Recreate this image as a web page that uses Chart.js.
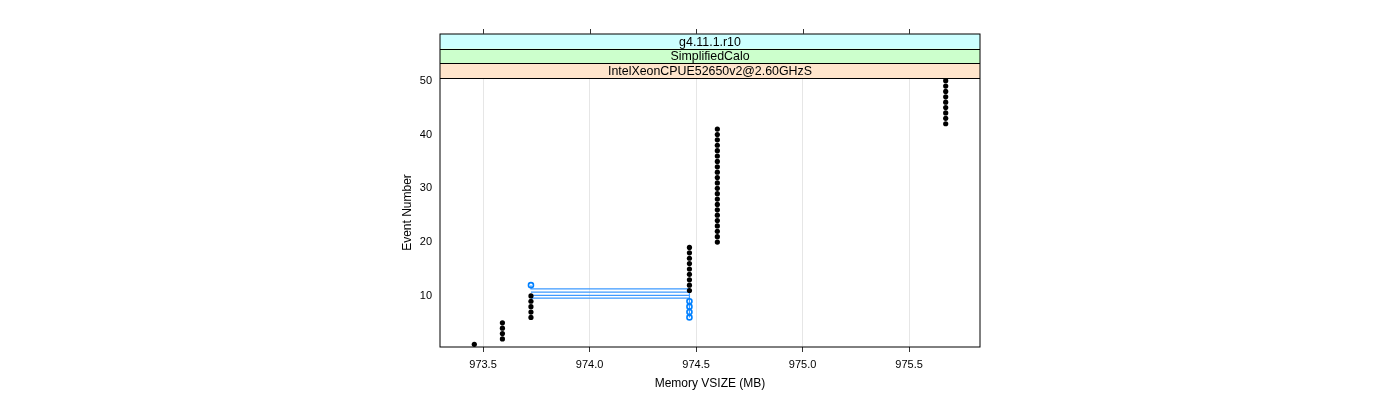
<!DOCTYPE html>
<html><head><meta charset="utf-8">
<script src="https://cdn.jsdelivr.net/npm/chart.js@4/dist/chart.umd.min.js"></script>
<style>html,body{margin:0;padding:0;background:#fff}canvas{display:block}</style>
</head><body>
<canvas id="c" width="1400" height="400"></canvas>
<script>
// ---- data ----
const stripLabels = ["g4.11.1.r10", "SimplifiedCalo", "IntelXeonCPUE52650v2@2.60GHzS"];
const stripColors = ["#ccffff", "#ccffcc", "#ffe5cc"];
const xTickValues = [973.5, 974.0, 974.5, 975.0, 975.5];
const yTickValues = [10, 20, 30, 40, 50];
const xRange = [973.298, 975.833];
const yRange = [0.5, 50.5];
const xTitle = "Memory VSIZE (MB)";
const yTitle = "Event Number";

const blackEvents = [1, 2, 3, 4, 5, 6, 7, 8, 9, 10,
  11, 12, 13, 14, 15, 16, 17, 18, 19, 20,
  21, 22, 23, 24, 25, 26, 27, 28, 29, 30,
  31, 32, 33, 34, 35, 36, 37, 38, 39, 40,
  41, 42, 43, 44, 45, 46, 47, 48, 49, 50];
const blackMemory = [973.459, 973.591, 973.591, 973.591, 973.591, 973.725, 973.725, 973.725, 973.725, 973.725,
  974.469, 974.469, 974.469, 974.469, 974.469, 974.469, 974.469, 974.469, 974.469, 974.600,
  974.600, 974.600, 974.600, 974.600, 974.600, 974.600, 974.600, 974.600, 974.600, 974.600,
  974.600, 974.600, 974.600, 974.600, 974.600, 974.600, 974.600, 974.600, 974.600, 974.600,
  974.600, 975.672, 975.672, 975.672, 975.672, 975.672, 975.672, 975.672, 975.672, 975.672];

const blueEvents = [6, 7, 8, 9, 12];
const blueMemory = [974.469, 974.469, 974.469, 974.469, 973.725];

const blueLineEvents = [12, 11.3, 11.3, 6, null, 10.7, 10.7, null, 10.1, 10.1, null, 9.6, 9.6];
const blueLineMemory = [973.725, 973.725, 974.469, 974.469, null, 973.725, 974.469, null, 973.725, 974.469, null, 973.725, 974.469];

// ---- helpers ----
const pts = (xs, ys) => xs.map((x, i) => ({x: x, y: ys[i]}));
const FONT = "'Liberation Sans', Arial, Helvetica, sans-serif";

const latticeFrame = {
  id: 'latticeFrame',
  afterDraw(chart) {
    const {ctx, chartArea: a, scales: {x}} = chart;
    const n = stripLabels.length;
    const stripH = 14.67;
    const stripTop = a.top - stripH * n;
    ctx.save();
    for (let i = 0; i < n; i++) {
      const t = stripTop + stripH * i;
      ctx.fillStyle = stripColors[i];
      ctx.fillRect(a.left, t, a.right - a.left, stripH);
    }
    ctx.strokeStyle = '#000';
    ctx.lineWidth = 1;
    for (let i = 1; i <= n; i++) {
      const yy = Math.round(stripTop + stripH * i) + 0.5;
      ctx.beginPath(); ctx.moveTo(a.left, yy); ctx.lineTo(a.right, yy); ctx.stroke();
    }
    ctx.fillStyle = '#000';
    ctx.font = '12.4px ' + FONT;
    ctx.textAlign = 'center';
    ctx.textBaseline = 'middle';
    for (let i = 0; i < n; i++) {
      const t = stripTop + stripH * i;
      ctx.fillText(stripLabels[i], (a.left + a.right) / 2, t + stripH / 2 + 1);
    }
    // outer frame
    ctx.strokeRect(a.left, Math.round(stripTop), a.right - a.left, a.bottom - Math.round(stripTop));
    // top ticks
    ctx.strokeStyle = '#333';
    xTickValues.forEach(v => {
      const px = Math.round(x.getPixelForValue(v)) + 0.5;
      ctx.beginPath(); ctx.moveTo(px, Math.round(stripTop) - 5); ctx.lineTo(px, Math.round(stripTop)); ctx.stroke();
    });
    ctx.restore();
  }
};

new Chart(document.getElementById('c'), {
  type: 'scatter',
  data: {
    datasets: [
      {
        label: 'blue-lines',
        data: pts(blueLineMemory, blueLineEvents),
        showLine: true,
        spanGaps: false,
        borderColor: '#3d99ff',
        borderWidth: 1.2,
        pointRadius: 0,
        order: 3
      },
      {
        label: 'black',
        data: pts(blackMemory, blackEvents),
        pointRadius: 2.6,
        pointBackgroundColor: '#000',
        pointBorderWidth: 0,
        order: 2
      },
      {
        label: 'blue',
        data: pts(blueMemory, blueEvents),
        pointRadius: 2.5,
        pointBackgroundColor: 'rgba(0,0,0,0)',
        pointBorderColor: '#0080ff',
        pointBorderWidth: 1.6,
        order: 1
      }
    ]
  },
  options: {
    responsive: false,
    animation: false,
    layout: {padding: {left: 0, right: 420, top: 78, bottom: 0}},
    plugins: {legend: {display: false}, tooltip: {enabled: false}},
    scales: {
      x: {
        type: 'linear',
        min: xRange[0], max: xRange[1],
        afterFit: s => { s.height = 53; },
        afterBuildTicks: s => { s.ticks = xTickValues.map(v => ({value: v})); },
        ticks: {
          callback: v => v.toFixed(1),
          font: {family: FONT, size: 11},
          color: '#000',
          padding: 6,
          maxRotation: 0
        },
        grid: {color: '#e6e6e6', lineWidth: 1, drawTicks: true, tickLength: 5, tickColor: '#333', tickWidth: 1},
        border: {display: false},
        title: {display: true, text: xTitle, font: {family: FONT, size: 12}, color: '#000', padding: {top: 0, bottom: 9}}
      },
      y: {
        type: 'linear',
        min: yRange[0], max: yRange[1],
        afterFit: s => { s.width = 440; },
        afterBuildTicks: s => { s.ticks = yTickValues.map(v => ({value: v})); },
        ticks: {font: {family: FONT, size: 11}, color: '#000', padding: 8},
        grid: {display: false, drawTicks: false},
        border: {display: false},
        title: {display: true, text: yTitle, font: {family: FONT, size: 12}, color: '#000', padding: {top: 400, bottom: 0}}
      }
    }
  },
  plugins: [latticeFrame]
});
</script>
</body></html>
